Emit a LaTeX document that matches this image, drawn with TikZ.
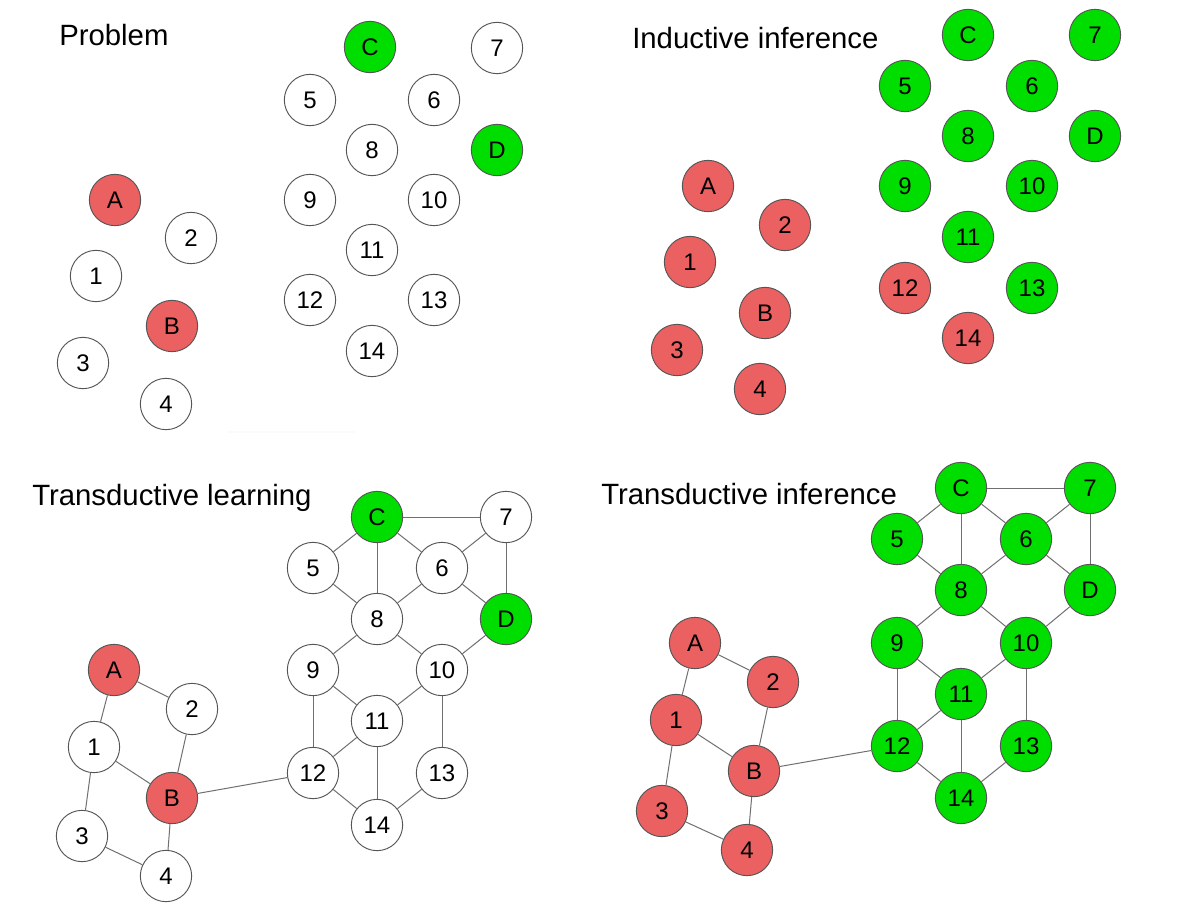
\documentclass[tikz,border=0pt]{standalone}
\usepackage{fontspec}
\setmainfont{Liberation Sans}
\definecolor{rednode}{HTML}{EB6060}
\definecolor{greennode}{HTML}{00DE00}
\definecolor{nodeborder}{HTML}{555555}
\definecolor{edgecol}{HTML}{707070}
\begin{document}
\begin{tikzpicture}[x=0.75pt,y=-0.75pt,
  vtx/.style={circle,draw=nodeborder,line width=0.7pt,minimum size=38.5pt,inner sep=0pt,font=\fontsize{18}{18}\selectfont},
  wht/.style={vtx,fill=white},
  red/.style={vtx,fill=rednode},
  grn/.style={vtx,fill=greennode},
  edge/.style={draw=edgecol,line width=0.75pt},
  title/.style={anchor=base west,inner sep=0pt,font=\fontsize{22}{22}\selectfont}]
\useasboundingbox (0,0) rectangle (1186,915);
\fill[white] (0,0) rectangle (1186,915);
\draw[gray!4,line width=1.5pt] (228,432) -- (355,432);

% ---------- Panel 1: Problem ----------
\node[title] (t1) at (59,45) {Problem};
\foreach \n/\x/\y/\s in {C/370/47/grn,7/497/48/wht,5/310/100/wht,6/434/100/wht,8/372/150/wht,D/497/150/grn,
  9/310/200/wht,10/434/200/wht,11/372/250/wht,12/310/300/wht,13/434/300/wht,14/372/351/wht,
  A/115/200/red,2/191/238/wht,1/96/276/wht,B/172/326/red,3/83/363/wht,4/166/404/wht}
  \node[\s] (p\n) at (\x,\y) {\n};

% ---------- Panel 2: Inductive inference ----------
\node[title] (t2) at (632,48) {Inductive inference};
\foreach \n/\x/\y/\s in {C/968/35/grn,7/1095/35/grn,5/905/86/grn,6/1032/86/grn,8/968/136/grn,D/1095/136/grn,
  9/905/186/grn,10/1032/186/grn,11/968/237/grn,12/905/288/red,13/1032/288/grn,14/968/338/red,
  A/708/186/red,2/785/225/red,1/690/262/red,B/765/313/red,3/677/350/red,4/760/389/red}
  \node[\s] (q\n) at (\x,\y) {\n};

% ---------- Panel 3: Transductive learning ----------
\node[title] (t3) at (32,505) {Transductive learning};
\foreach \n/\x/\y/\s in {C/377/517/grn,7/506/517/wht,5/313/568/wht,6/442/568/wht,8/377/619/wht,D/506/619/grn,
  9/313/670/wht,10/442/670/wht,11/377/721/wht,12/313/773/wht,13/442/773/wht,14/377/825/wht,
  A/114/670/red,2/192/709/wht,1/94/747/wht,B/172/798/red,3/82/836/wht,4/166/876/wht}
  \node[\s] (r\n) at (\x,\y) {\n};

% ---------- Panel 4: Transductive inference ----------
\node[title] (t4) at (601,504) {Transductive inference};
\foreach \n/\x/\y/\s in {C/961/488/grn,7/1090/488/grn,5/897/539/grn,6/1026/539/grn,8/961/590/grn,D/1090/590/grn,
  9/897/643/grn,10/1026/643/grn,11/961/694/grn,12/897/746/grn,13/1026/746/grn,14/961/798/grn,
  A/695/643/red,2/773/682/red,1/676/720/red,B/754/771/red,3/662/811/red,4/747/850/red}
  \node[\s] (s\n) at (\x,\y) {\n};

% ---------- Edges ----------
\foreach \p in {r,s}{
  \foreach \a/\b in {C/7,C/5,C/6,C/8,7/6,7/D,5/8,6/8,6/D,8/9,8/10,D/10,9/11,9/12,10/11,10/13,
    11/12,11/14,12/14,13/14,12/B,A/2,A/1,2/B,1/B,1/3,3/4,B/4}
    \draw[edge] (\p\a) -- (\p\b);
}
\end{tikzpicture}
\end{document}
